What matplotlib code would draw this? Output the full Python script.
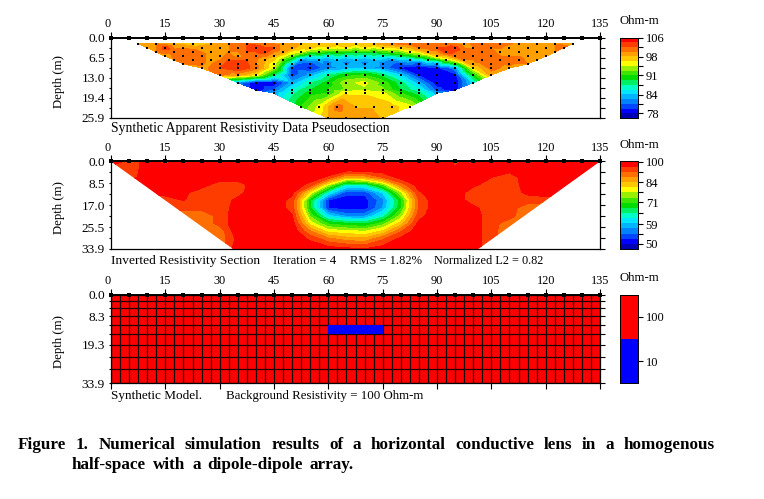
import numpy as np
import matplotlib
matplotlib.use('Agg')
import matplotlib.pyplot as plt
import matplotlib.tri as mtri
from matplotlib.colors import ListedColormap, BoundaryNorm
from matplotlib.patches import Polygon
from matplotlib.ticker import NullFormatter

plt.rcParams['font.family'] = ['Liberation Serif', 'DejaVu Serif']

W, H = 764, 499
FS = 9.2

# 17 colour bands, blue to red
BAND_COLORS = [
    '#0000b4', '#0000ff', '#0046ff', '#0082ff', '#00b4ff', '#00e6ff',
    '#00ffc8', '#00f064', '#00dc00', '#3ce600', '#96f000', '#ffff00',
    '#ffc800', '#ffa000', '#ff6e00', '#ff3c00', '#ff0000',
]

X_TICKS = [0, 15, 30, 45, 60, 75, 90, 105, 120, 135]
ELECTRODES = np.arange(0, 136, 5)

# apparent resistivity pseudosection, one row per data level
PSEUDO_DEPTH = [2.0, 3.3, 4.6, 6.0, 7.2, 8.5, 9.8, 12.0, 14.5, 16.8, 17.9, 22.2, 25.9]
PSEUDO_START = [7.5, 10, 12.5, 15, 17.5, 20, 25, 30, 35, 40, 45, 52.5, 60]
PSEUDO_ROWS = [
    [99, 100, 98, 97, 98, 100, 102, 101, 99, 98, 98, 98, 97, 98, 100, 101, 102, 101, 99, 102, 102, 99, 99, 100, 99],
    [100, 103, 100, 99, 99, 101, 103, 102, 99, 97, 96, 96, 96, 96, 97, 100, 102, 103, 100, 100, 98, 99, 100, 101],
    [100, 101, 101, 99, 100, 102, 103, 99, 95, 92, 91, 90, 90, 92, 95, 99, 103, 101, 101, 99, 99, 99, 100],
    [99, 102, 101, 99, 99, 101, 98, 92, 86, 85, 85, 85, 86, 88, 91, 97, 101, 101, 102, 100, 99, 99],
    [100, 102, 99, 102, 102, 98, 92, 82, 83, 84, 84, 84, 82, 84, 87, 93, 100, 102, 101, 101, 99],
    [100, 101, 101, 104, 100, 95, 84, 80, 81, 81, 81, 81, 80, 79, 81, 90, 99, 102, 101, 100],
    [99, 102, 104, 101, 94, 80, 79, 82, 83, 83, 82, 79, 78, 79, 82, 96, 101, 99],
    [101, 99, 96, 88, 80, 83, 87, 90, 91, 88, 84, 79, 78, 79, 90, 99],
    [82, 78, 78, 83, 87, 90, 94, 95, 92, 88, 83, 78, 78, 85],
    [78, 81, 86, 89, 91, 93, 94, 93, 89, 86, 80, 78],
    [83, 87, 90, 91, 96, 96, 95, 91, 88, 83],
    [91, 95, 101, 98, 98, 97, 95],
    [98, 99, 99, 98],
]
PSEUDO_MIN, PSEUDO_MAX = 76.5, 106
PSEUDO_TICKS = [78, 84, 91, 98, 106]

# inverted section, columns at the electrode positions
INV_DEPTH = [0, 3, 6, 9, 12, 15, 18, 21, 24, 27, 30, 33.9]
INV_ROWS = [
    [99, 94, 97, 94, 98, 99, 99, 99, 99, 99, 99, 99, 99, 99, 97, 99, 99, 99, 99, 95, 99, 99, 99, 99, 99, 99, 99, 99],
    [93, 93, 98, 99, 99, 99, 99, 99, 99, 99, 99, 99, 99, 99, 99, 99, 99, 99, 99, 96, 99, 99, 98, 99, 99, 99, 99, 99],
    [93, 93, 99, 99, 99, 99, 99, 99, 99, 99, 99, 99, 95, 84, 86, 92, 98, 99, 99, 99, 99, 96, 93, 99, 99, 99, 99, 99],
    [99, 99, 99, 99, 99, 98, 93, 93, 99, 99, 99, 94, 77, 63, 64, 73, 89, 98, 99, 99, 97, 93, 93, 98, 99, 99, 99, 99],
    [98, 98, 98, 98, 97, 93, 93, 94, 99, 99, 97, 79, 62, 53, 53, 60, 76, 95, 99, 99, 93, 93, 93, 97, 99, 99, 99, 99],
    [93, 93, 93, 93, 96, 93, 93, 97, 99, 99, 94, 68, 52, 51, 51, 56, 69, 92, 99, 99, 93, 93, 93, 93, 93, 93, 93, 93],
    [93, 93, 93, 93, 93, 93, 93, 98, 99, 99, 94, 68, 52, 51, 51, 57, 70, 92, 99, 99, 97, 93, 93, 90, 89, 89, 89, 89],
    [89, 89, 89, 89, 89, 89, 93, 99, 99, 99, 96, 73, 60, 56, 56, 63, 75, 94, 99, 99, 98, 93, 93, 89, 89, 89, 89, 89],
    [89, 89, 89, 89, 89, 89, 93, 99, 99, 99, 98, 79, 70, 68, 67, 72, 82, 97, 99, 99, 98, 93, 90, 88, 88, 88, 88, 88],
    [89, 89, 89, 89, 89, 89, 89, 99, 99, 99, 99, 88, 79, 78, 77, 81, 91, 99, 99, 99, 98, 93, 89, 89, 89, 89, 89, 89],
    [89, 89, 89, 89, 89, 89, 89, 97, 99, 99, 99, 95, 89, 86, 85, 91, 97, 99, 99, 99, 98, 93, 89, 89, 89, 89, 89, 89],
    [89, 89, 89, 89, 89, 89, 89, 99, 99, 99, 99, 99, 98, 97, 96, 98, 99, 99, 99, 99, 98, 93, 89, 89, 89, 89, 89, 89],
]
INV_OUTLINE_X = [0, 135, 101.4, 33.7]
INV_OUTLINE_D = [0, 0, 33.9, 33.9]
INV_MIN, INV_MAX = 47.9, 100
INV_TICKS = [50, 59, 71, 84, 100]

# synthetic model blocks
MODEL_X = np.arange(0, 135.1, 2.5)
MODEL_DEPTH = [0, 2.5, 5.3, 8.3, 11.8, 15.2, 19.3, 24.0, 28.6, 33.9]
BACKGROUND = 100
LENS = 10
LENS_X = (60, 75)
LENS_DEPTH = (11.8, 15.2)
MODEL_LEVELS = [3.3, 32, 313]
MODEL_TICKS = [10, 100]


def px_axes(fig, left, top, right, bottom):
    return fig.add_axes([left / W, 1 - bottom / H, (right - left) / W, (bottom - top) / H])


def px_text(fig, x, y, s, **kw):
    kw.setdefault('fontsize', FS)
    kw.setdefault('va', 'center')
    return fig.text(x / W, 1 - y / H, s, **kw)


def style_section(ax, depth_max, major, minor, bottom_ticks=False):
    ax.set_xlim(0, 135)
    ax.set_ylim(depth_max, 0)
    ax.set_xticks(X_TICKS)
    ax.set_yticks(major)
    ax.set_yticklabels([f'{v:.1f}' for v in major])
    ax.set_yticks(minor, minor=True)
    ax.tick_params(axis='x', which='major', top=True, labeltop=True, bottom=bottom_ticks,
                   labelbottom=False, length=4, width=0.8, labelsize=8.8, pad=1.5)
    ax.tick_params(axis='y', which='both', left=True, right=True, length=3.5, width=0.8,
                   labelsize=9.6, pad=0.8)
    ax.get_xticklabels()[0].set_ha('right')
    for tick in ax.yaxis.get_major_ticks() + ax.yaxis.get_minor_ticks():
        tick.tick1line.set_markersize(1.8)
    for spine in ax.spines.values():
        spine.set_linewidth(0.9)
    ax.spines['top'].set_linewidth(1.4)
    ax.scatter(ELECTRODES, np.zeros(len(ELECTRODES)), marker='s', s=11, c='black',
               clip_on=False, zorder=6, linewidths=0)


def draw_colorbar(cax, levels, colors, ticks):
    cmap = ListedColormap(colors)
    norm = BoundaryNorm(levels, len(colors))
    mids = np.sqrt(np.array(levels[:-1]) * np.array(levels[1:]))
    cax.pcolormesh([0, 1], levels, mids[:, None], cmap=cmap, norm=norm)
    cax.set_yscale('log')
    cax.set_ylim(levels[0], levels[-1])
    cax.set_xticks([])
    cax.yaxis.tick_right()
    cax.set_yticks(ticks)
    cax.set_yticklabels([str(t) for t in ticks])
    cax.minorticks_off()
    if len(ticks) > 2:
        cax.set_yticks(np.sqrt(np.array(ticks[:-1]) * np.array(ticks[1:])), minor=True)
    cax.yaxis.set_minor_formatter(NullFormatter())
    cax.tick_params(axis='y', which='both', length=3.5, width=0.8, labelsize=9, pad=2)
    for spine in cax.spines.values():
        spine.set_linewidth(0.7)


def justified(fig, renderer, words, x0, x1, y, **kw):
    items = [px_text(fig, 0, y, w, **kw) for w in words]
    widths = [t.get_window_extent(renderer).width for t in items]
    gap = (x1 - x0 - sum(widths)) / (len(words) - 1)
    x = x0
    for t, w in zip(items, widths):
        t.set_x(x / W)
        x += w + gap


def main():
    fig = plt.figure(figsize=(W / 100, H / 100), dpi=100, facecolor='white')

    # top panel: pseudosection
    ax1 = px_axes(fig, 111, 37.5, 600, 118)
    xs, ds, vs = [], [], []
    for d, start, row in zip(PSEUDO_DEPTH, PSEUDO_START, PSEUDO_ROWS):
        for i, v in enumerate(row):
            xs.append(start + 5 * i)
            ds.append(d)
            vs.append(v)
    xs, ds, vs = np.array(xs), np.array(ds), np.array(vs, dtype=float)
    tri = mtri.Triangulation(xs, ds)
    left_x = np.array(PSEUDO_START, dtype=float)
    edge_x = np.concatenate([left_x, 135 - left_x[::-1]])
    edge_d = np.array(PSEUDO_DEPTH + PSEUDO_DEPTH[::-1])
    cx = xs[tri.triangles].mean(axis=1)
    cd = ds[tri.triangles].mean(axis=1)
    tri.set_mask(cd > np.interp(cx, edge_x, edge_d) + 0.02)
    levels1 = np.geomspace(PSEUDO_MIN, PSEUDO_MAX, 18)
    ax1.tricontourf(tri, vs, levels=levels1, colors=BAND_COLORS, extend='neither')
    ax1.scatter(xs, ds, marker='s', s=3, c='black', linewidths=0, zorder=4, clip_on=False)
    style_section(ax1, 25.9, [0, 6.5, 13.0, 19.4, 25.9], [3.25, 9.75, 16.2, 22.65])
    cax1 = px_axes(fig, 620, 37.5, 638, 118)
    draw_colorbar(cax1, list(levels1), BAND_COLORS, PSEUDO_TICKS)

    # middle panel: inverted section
    ax2 = px_axes(fig, 111, 161.5, 600, 249)
    levels2 = np.geomspace(INV_MIN, INV_MAX, 18)
    cs = ax2.contourf(ELECTRODES, INV_DEPTH, np.array(INV_ROWS, dtype=float), levels=levels2,
                      colors=BAND_COLORS)
    cs.set_clip_path(Polygon(np.column_stack([INV_OUTLINE_X, INV_OUTLINE_D]), transform=ax2.transData))
    style_section(ax2, 33.9, [0, 8.5, 17.0, 25.5, 33.9], [4.25, 12.75, 21.25, 29.7])
    cax2 = px_axes(fig, 620, 161.5, 638, 249)
    draw_colorbar(cax2, list(levels2), BAND_COLORS, INV_TICKS)

    # bottom panel: model blocks
    ax3 = px_axes(fig, 111, 294.5, 600, 383)
    model = np.full((len(MODEL_DEPTH) - 1, len(MODEL_X) - 1), float(BACKGROUND))
    mid_x = (MODEL_X[:-1] + MODEL_X[1:]) / 2
    mid_d = (np.array(MODEL_DEPTH[:-1]) + np.array(MODEL_DEPTH[1:])) / 2
    in_lens = np.outer((mid_d > LENS_DEPTH[0]) & (mid_d < LENS_DEPTH[1]),
                       (mid_x > LENS_X[0]) & (mid_x < LENS_X[1]))
    model[in_lens] = LENS
    ax3.pcolormesh(MODEL_X, MODEL_DEPTH, np.ma.masked_where(in_lens, model),
                   cmap=ListedColormap(['#ff0000']), zorder=1)
    ax3.vlines(MODEL_X, 0, 33.9, colors='#200000', linewidth=0.9, zorder=2)
    ax3.hlines(MODEL_DEPTH, 0, 135, colors='#200000', linewidth=0.9, zorder=2)
    ax3.pcolormesh(MODEL_X, MODEL_DEPTH, np.ma.masked_where(~in_lens, model),
                   cmap=ListedColormap(['#0000ff']), zorder=3)
    style_section(ax3, 33.9, [0, 8.3, 19.3, 33.9], [2.5, 5.3, 11.8, 15.2, 24.0, 28.6], bottom_ticks=True)
    cax3 = px_axes(fig, 620, 294.5, 638, 383)
    draw_colorbar(cax3, MODEL_LEVELS, ['#0000ff', '#ff0000'], MODEL_TICKS)

    # labels
    for y in (82, 208, 342):
        px_text(fig, 59, y, 'Depth (m)', rotation=90, ha='center')
    for y in (21, 145, 278):
        px_text(fig, 620, y, 'Ohm-m')

    px_text(fig, 111, 129, 'Synthetic Apparent Resistivity Data Pseudosection', fontsize=9.8)
    px_text(fig, 111, 261, 'Inverted Resistivity Section', fontsize=9.6)
    px_text(fig, 273, 261, 'Iteration = 4', fontsize=9.2)
    px_text(fig, 350, 261, 'RMS = 1.82%', fontsize=9.0)
    px_text(fig, 434, 261, 'Normalized L2 = 0.82', fontsize=8.8)
    px_text(fig, 111, 396.5, 'Synthetic Model.', fontsize=9.5)
    px_text(fig, 226.5, 396.5, 'Background Resistivity = 100 Ohm-m', fontsize=9.3)

    renderer = fig.canvas.get_renderer()
    caption = dict(fontsize=12.3, fontweight='bold')
    justified(fig, renderer,
              'Figure 1. Numerical simulation results of a horizontal conductive lens in a homogenous'.split(),
              18, 715, 445, **caption)
    justified(fig, renderer, 'half-space with a dipole-dipole array.'.split(), 72, 354, 465, **caption)

    fig.savefig('out.png', dpi=100)


if __name__ == "__main__":
    main()
